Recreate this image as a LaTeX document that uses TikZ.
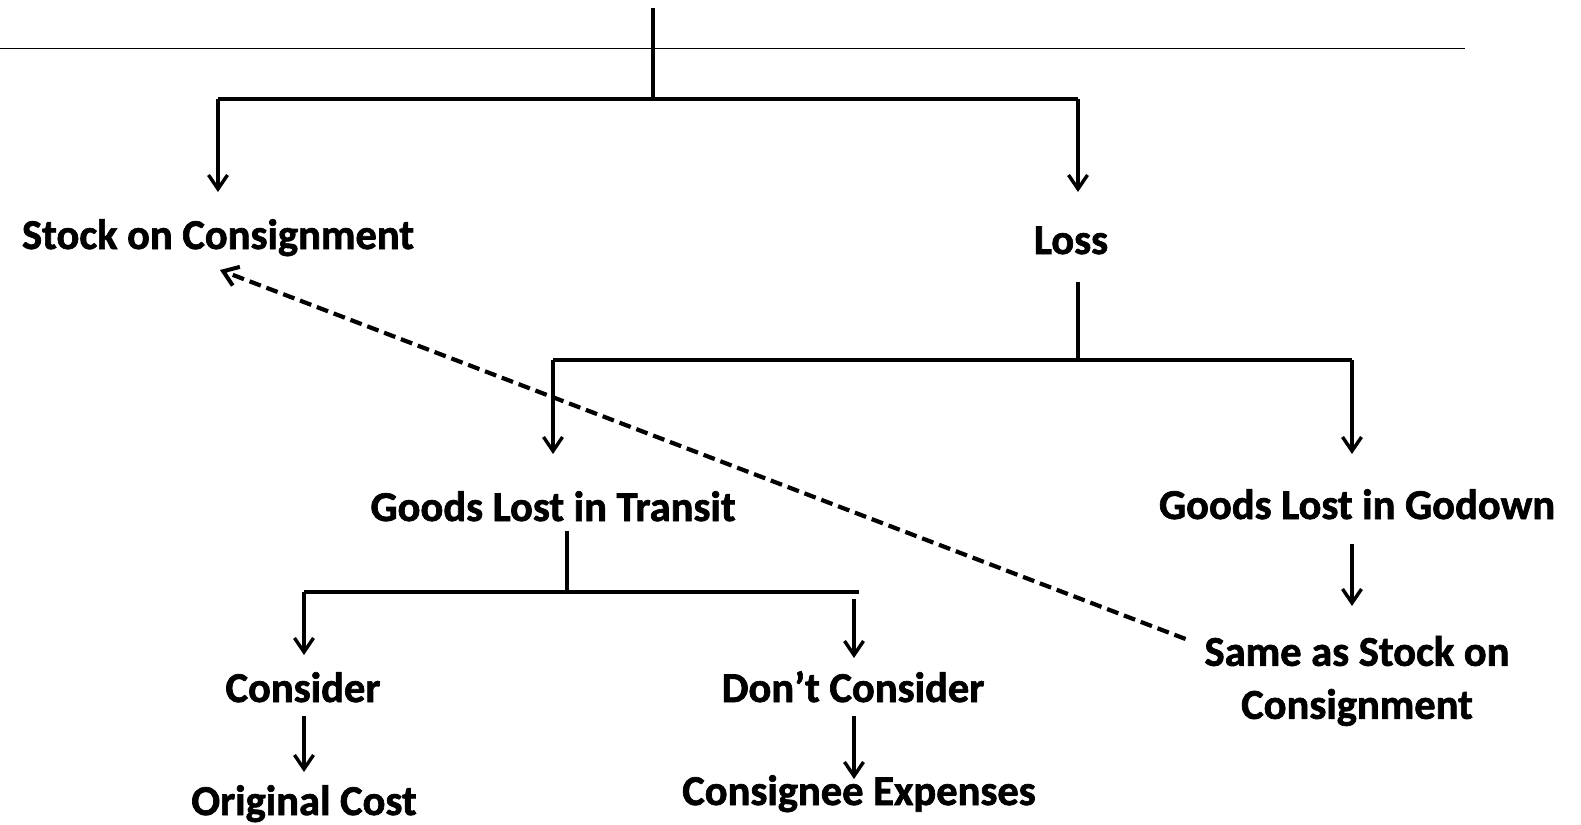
\documentclass[tikz,border=0pt]{standalone}
\usepackage{fontspec}
\setmainfont{Carlito}[BoldFeatures={FakeBold=1.6}]
\usetikzlibrary{arrows.meta}
\begin{document}
\begin{tikzpicture}[x=1pt,y=-1pt,
  lbl/.style={font=\fontsize{42.5}{53}\selectfont\bfseries, inner sep=0pt, outer sep=0pt, anchor=base, text height=30pt, text depth=10pt},
  lblm/.style={font=\fontsize{42.5}{53}\selectfont\bfseries, inner sep=0pt, outer sep=0pt, align=center},
  conn/.style={line width=3.2pt},
  bar/.style={line width=4.6pt},
  thin/.style={line width=1.4pt},
  arr/.style={line width=3.2pt, -{Straight Barb[length=14pt,width=19pt,line width=3.4pt]}},
  darr/.style={line width=4.2pt, dash pattern=on 12pt off 6pt, -{Straight Barb[length=14pt,width=20pt,line width=4pt]}}
]
\useasboundingbox (0,0) rectangle (1581,824);

% nodes
\node[lbl] (sc)   at (218,249) {Stock on Consignment};
\node[lbl] (loss) at (1071,254) {Loss};
\node[lbl] (git)  at (553,521) {Goods Lost in Transit};
\node[lbl] (gig)  at (1357,519) {Goods Lost in Godown};
\node[lbl] (con)  at (303,702) {Consider};
\node[lbl] (dcon) at (853,702) {Don’t Consider};
\node[lbl] (oc)   at (304,815) {Original Cost};
\node[lbl] (ce)   at (859,805) {Consignee Expenses};
\node[lblm] (same) at (1357,681) {Same as Stock on\\Consignment};

% junction coordinates
\coordinate (lA) at (0,48.5);
\coordinate (lB) at (1465,48.5);
\coordinate (t0) at (653,8);
\coordinate (t1) at (653,99);
\coordinate (bL) at (218,99);
\coordinate (bR) at (1078,99);
\coordinate (jLoss) at (1078,360);
\coordinate (b2L) at (553,360);
\coordinate (b2R) at (1352,360);
\coordinate (j3) at (567,592);
\coordinate (b3L) at (304,592);
\coordinate (b3R) at (859,592);
\coordinate (dstart) at (854,599);
\coordinate (gx) at (1352,0);

% top
\draw[thin] (lA) -- (lB);
\draw[bar] (t0) -- (t1);
\draw[bar] (bL) -- (bR);
\draw[arr, shorten >=27pt] (bL) -- (bL |- sc.north);
\draw[arr, shorten >=32pt] (bR) -- (bR |- loss.north);

% loss subtree
\draw[conn, shorten <=18pt] (jLoss |- loss.south) -- (jLoss);
\draw[conn] (b2L) -- (b2R);
\draw[arr, shorten >=37pt] (b2L) -- (b2L |- git.north);
\draw[arr, shorten >=35pt] (b2R) -- (b2R |- gig.north);

% transit subtree
\draw[conn] (j3 |- git.south) -- (j3);
\draw[bar] (b3L) -- (b3R);
\draw[arr, shorten >=17pt] (b3L) -- (b3L |- con.north);
\draw[arr, shorten >=14pt] (dstart) -- (dstart |- dcon.north);
\draw[arr, shorten <=4pt, shorten >=13pt] (b3L |- con.south) -- (b3L |- oc.north);
\draw[arr, shorten <=4pt, shorten >=-4pt] (dstart |- dcon.south) -- (dstart |- ce.north);

% godown subtree
\draw[arr, shorten <=15pt, shorten >=30pt] (gx |- gig.south) -- (gx |- same.north);

% dashed link
\draw[darr] ([xshift=-19pt,yshift=-3pt]same.north west) -- ([xshift=2pt,yshift=-11pt]sc.south);
\end{tikzpicture}
\end{document}
